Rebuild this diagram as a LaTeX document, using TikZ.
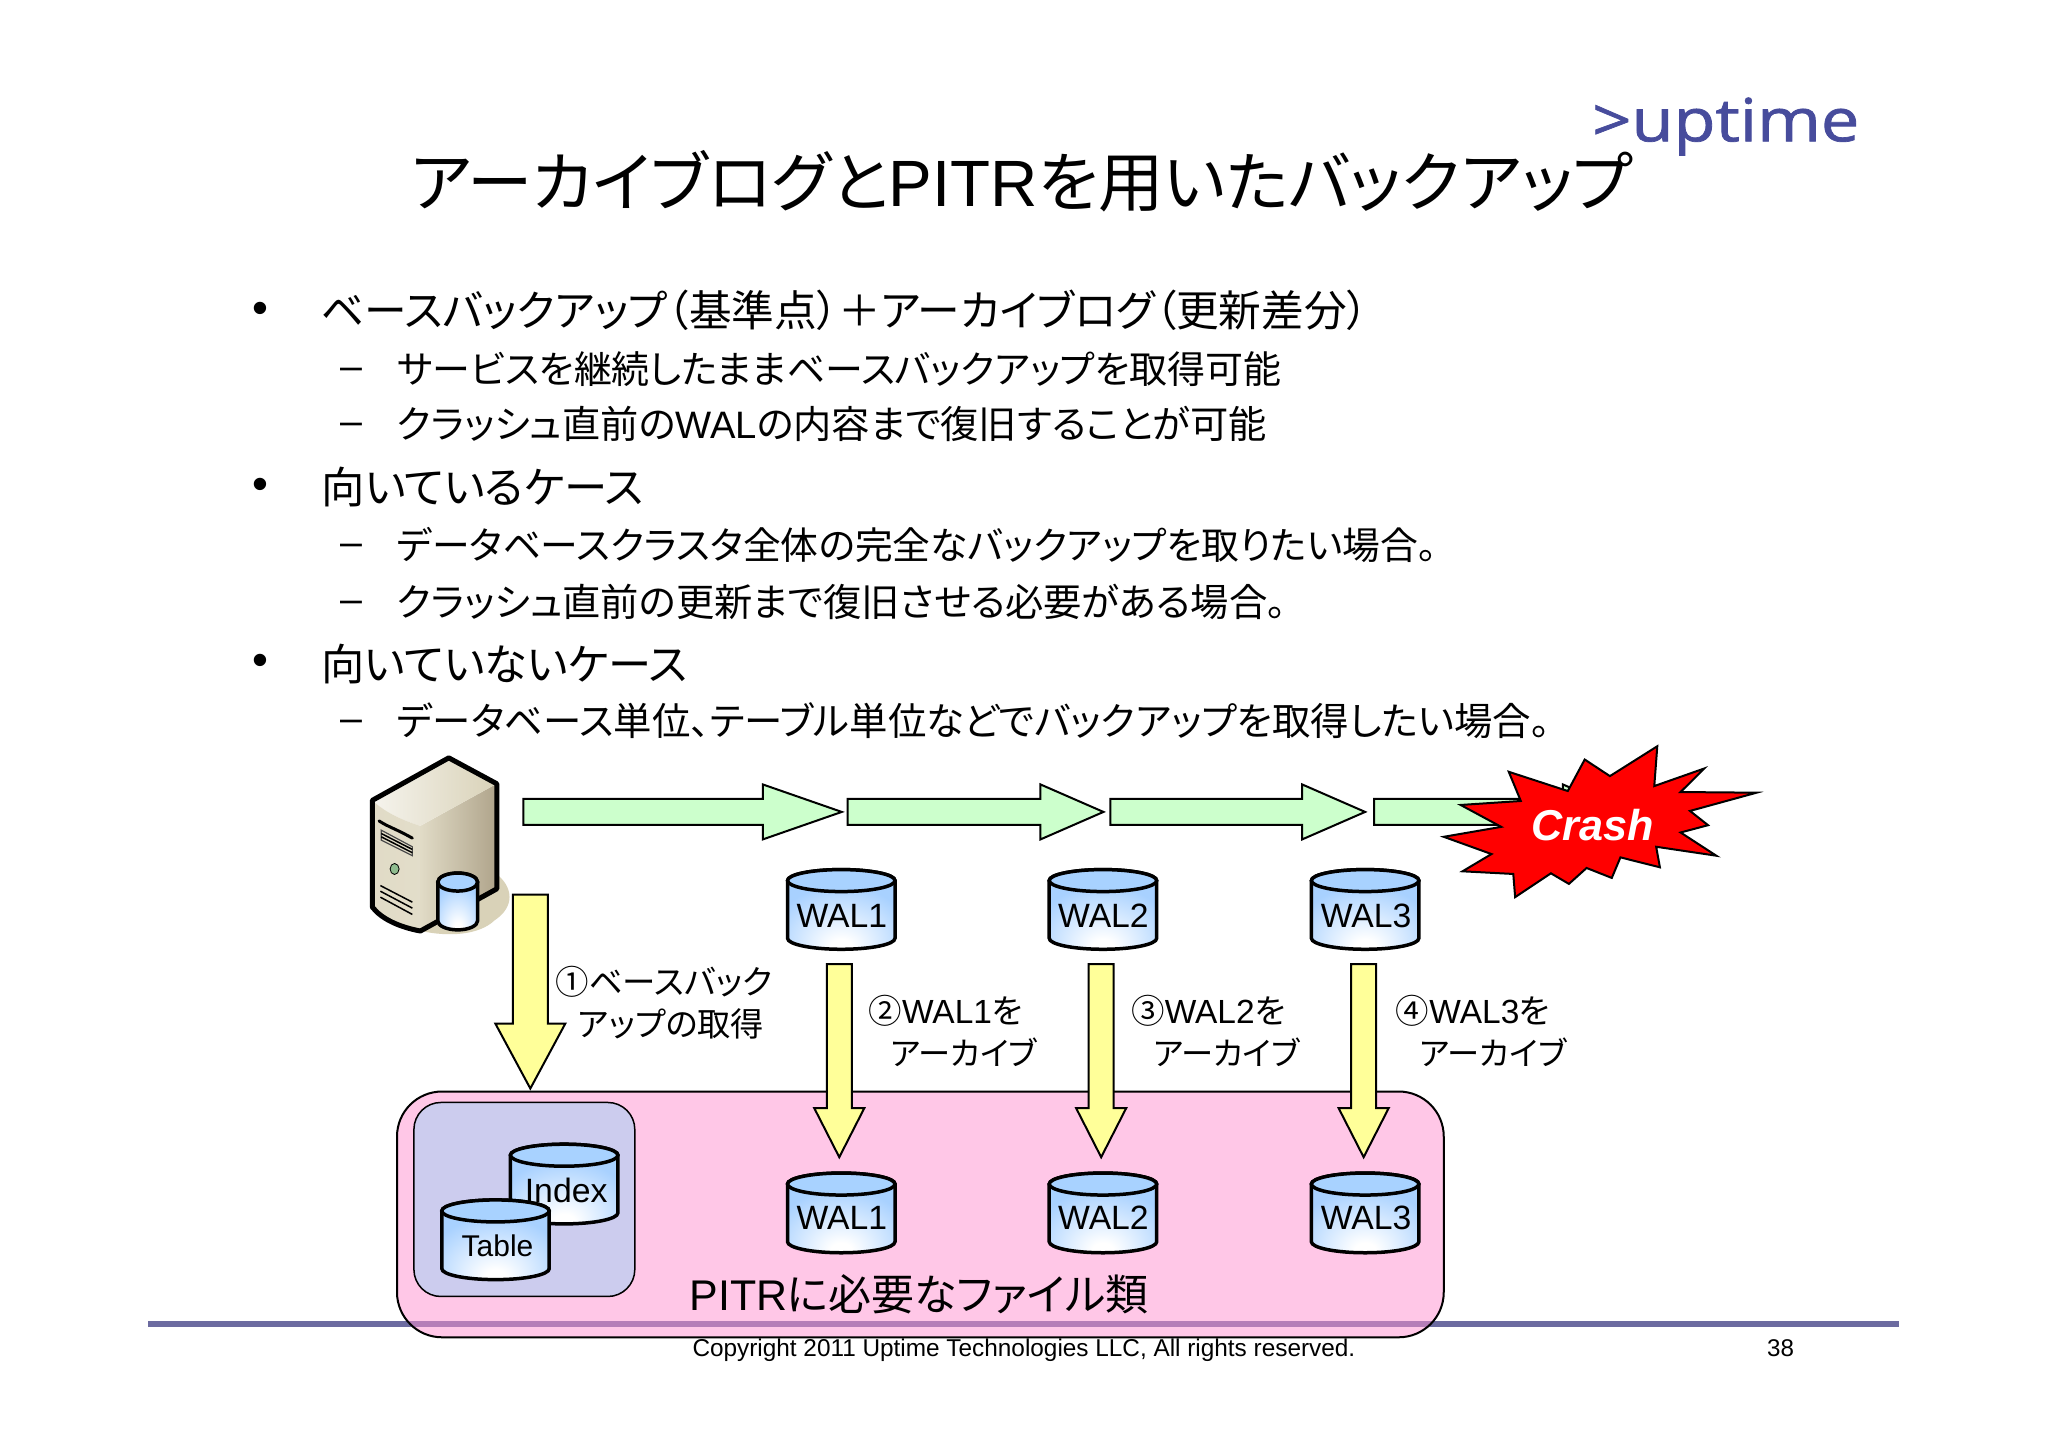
\documentclass[tikz,border=0pt]{standalone}
\usepackage{fontspec}
\usepackage{graphicx}
\setmainfont{Noto Sans CJK JP}[RawFeature={+palt}]
\newfontfamily\lat{Liberation Sans}
\newfontfamily\logo{Open Sans}[FakeBold=1.2]
\usetikzlibrary{calc}
\definecolor{cblue}{HTML}{A8D2FF}
\definecolor{gfill}{HTML}{CCFFCC}
\definecolor{yfill}{HTML}{FFFF99}
\definecolor{footline}{HTML}{6C6BA0}
\definecolor{pinkf}{HTML}{FF91D1}
\definecolor{lav}{HTML}{CCCCEE}
\definecolor{logoc}{HTML}{474C9C}
\definecolor{shad}{HTML}{D9D2B8}
\pgfdeclareradialshading{cylbody}{\pgfpoint{0bp}{-25bp}}{rgb(0bp)=(1,1,1);rgb(5bp)=(1,1,1);rgb(32bp)=(.66,.82,1);rgb(100bp)=(.66,.82,1)}
\tikzset{
  tx/.style={inner sep=0pt,outer sep=0pt,anchor=west,text=black,yshift=-1pt},
  hblock/.style n args={3}{draw=black,line width=2pt,line join=miter,fill=gfill,
    to path={let \p1=(\tikztostart),\p2=(\tikztotarget) in
      ({\x1},{\y1+#1pt}) -- ({\x2-#3pt},{\y1+#1pt}) -- ({\x2-#3pt},{\y1+#2pt}) -- (\x2,\y1)
      -- ({\x2-#3pt},{\y1-#2pt}) -- ({\x2-#3pt},{\y1-#1pt}) -- ({\x1},{\y1-#1pt}) -- cycle}},
  vblock/.style n args={3}{draw=black,line width=2pt,line join=miter,fill=yfill,
    to path={let \p1=(\tikztostart),\p2=(\tikztotarget) in
      ({\x1-#1pt},{\y1}) -- ({\x1+#1pt},{\y1}) -- ({\x1+#1pt},{\y2+#3pt}) -- ({\x1+#2pt},{\y2+#3pt}) -- (\x2,\y2)
      -- ({\x1-#2pt},{\y2+#3pt}) -- ({\x1-#1pt},{\y2+#3pt}) -- cycle}},
  cylb/.style={draw=black,line width=3.5pt,shading=cylbody},
  cyle/.style={draw=black,line width=3.5pt,fill=cblue},
}
\newcommand{\fitw}[2]{\resizebox{\dimexpr #1pt*995/1000\relax}{!}{#2}}
\newcommand{\jline}[5]{\node[tx] (#1) at (#2,#3) {\fitw{#4}{#5}};}
\newcommand{\ctext}[5]{\node[tx,anchor=center] (#1) at (#2,#3) {\fitw{#4}{#5}};}
% name, cx, cy, W, H, ry
\newcommand{\cylshape}[6]{
  \path[cylb] ({#2-#4/2},{#3-#5/2+#6}) -- ({#2-#4/2},{#3+#5/2-#6})
     arc[start angle=180,end angle=360,x radius={#4/2*.995pt},y radius={#6*1pt}]
     -- ({#2+#4/2},{#3-#5/2+#6}) arc[start angle=0,end angle=180,x radius={#4/2*.995pt},y radius={#6*1pt}] -- cycle;
  \path[cyle] (#2,{#3-#5/2+#6}) ellipse[x radius={#4/2*.995pt},y radius={#6*1pt}];
  \node[inner sep=0pt,minimum width=#4pt,minimum height=#5pt] (#1) at (#2,#3) {};
}
\begin{document}
\begin{tikzpicture}[x=.995pt,y=-.995pt]
\useasboundingbox (0pt,0pt) rectangle (2048pt,-1448pt);
\fill[white] (0pt,0pt) rectangle (2048pt,-1448pt);

% logo and title
\node[inner sep=0pt,anchor=base west,text=logoc] (logo) at (1600,142) {\resizebox*{267pt}{58pt}{\logo >uptime}};
\jline{title}{413}{181}{1228}{アーカイブログと{\lat PITR}を用いたバックアップ}

% bullets
\node[tx] (b1) at (254,313) {\fitw{16}{\lat •}};
\node[tx] (b2) at (254,490) {\fitw{16}{\lat •}};
\node[tx] (b3) at (254,667) {\fitw{16}{\lat •}};
\node[tx] (d1) at (342,375) {\fitw{22}{\lat –}};
\node[tx] (d2) at (342,430) {\fitw{22}{\lat –}};
\node[tx] (d3) at (342,552) {\fitw{22}{\lat –}};
\node[tx] (d4) at (342,609) {\fitw{22}{\lat –}};
\node[tx] (d5) at (342,728) {\fitw{22}{\lat –}};

\jline{l1}{323}{311}{1052}{ベースバックアップ（基準点）＋アーカイブログ（更新差分）}
\jline{l2}{399}{370}{889}{サービスを継続したままベースバックアップを取得可能}
\jline{l3}{399}{425}{874}{クラッシュ直前の{\lat WAL}の内容まで復旧することが可能}
\jline{l4}{323}{488}{324}{向いているケース}
\jline{l5}{399}{547}{1045}{データベースクラスタ全体の完全なバックアップを取りたい場合。}
\jline{l6}{399}{604}{894}{クラッシュ直前の更新まで復旧させる必要がある場合。}
\jline{l7}{323}{666}{368}{向いていないケース}
\jline{l8}{399}{723}{1159}{データベース単位、テーブル単位などでバックアップを取得したい場合。}

% footer rule and page text
\draw[footline,line width=6pt] (149,1330.5) -- (1909,1330.5);
\jline{copy}{696}{1356}{666}{\lat Copyright 2011 Uptime Technologies LLC, All rights reserved.}
\jline{page}{1776}{1354}{27}{\lat 38}

% large pink box (semi-transparent, the rule shows through)
\path[draw=black,line width=2pt,fill=pinkf,fill opacity=.5,rounded corners=45pt] (399,1097) rectangle (1451,1344);
\path[draw=black,line width=1.5pt,fill=lav,rounded corners=27pt] (416,1108) rectangle (638,1303);

% server
\begin{scope}[shift={(343,745)},x=.4442pt,y=-.3317pt]
  \fill[shad] (345,395) .. controls (390,440) and (390,500) .. (345,540) .. controls (310,585) and (240,590) .. (180,572) -- cycle;
  \path[left color=shad!80!white,right color=shad!80!black!90!brown] (178,255) -- (350,128) -- (350,445) -- (178,572) -- cycle;
  \path[left color=white!75!shad,right color=shad] (242,50) -- (350,128) -- (178,255) .. controls (130,235) and (95,210) .. (70,178) -- cycle;
  \path[left color=shad!80!white,right color=shad!75!white] (70,178) .. controls (95,210) and (130,235) .. (178,255) -- (178,572) .. controls (130,560) and (90,535) .. (70,500) -- cycle;
  \draw[black,line width=5pt,line join=round] (242,50) -- (350,128) -- (350,445) -- (178,572) .. controls (130,560) and (90,535) .. (70,500) -- (70,178) -- cycle;
  \draw[black,line width=3pt,line cap=round] (85,240) .. controls (105,258) and (120,262) .. (160,292);
  \draw[black!70,line width=1.2pt] (90,268) -- (160,318) -- (160,345) -- (90,298) -- cycle;
  \draw[black,line width=1.5pt] (90,278) -- (160,326);
  \draw[black,line width=1.5pt] (90,288) -- (160,336);
  \path[draw=black,line width=.8pt,fill=green!25!gray!70!white] (120,385) circle[x radius=4.5pt,y radius=5.5pt];
  \draw[black,line width=1.5pt] (88,435) -- (160,485);
  \draw[black,line width=1.5pt] (88,452) -- (160,503);
  \draw[black,line width=1.5pt] (88,470) -- (160,522);
\end{scope}
\cylshape{srvdb}{460}{906}{40}{57}{9}

% green arrows
\coordinate (g1s) at (526,816); \coordinate (g1e) at (846,816);
\coordinate (g2s) at (852,816); \coordinate (g2e) at (1109,816);
\coordinate (g3s) at (1116,816); \coordinate (g3e) at (1372,816);
\coordinate (g4s) at (1381,816); \coordinate (g4e) at (1634,816);
\draw[hblock={13}{27.5}{79}] (g1s) to (g1e);
\draw[hblock={13}{27.5}{63}] (g2s) to (g2e);
\draw[hblock={13}{27.5}{63}] (g3s) to (g3e);
\draw[hblock={13}{27.5}{63}] (g4s) to (g4e);

% crash star
\begin{scope}[shift={(1211,735)},x=.376pt,y=-.3317pt]
  \fill[red,draw=black,line width=2pt,line join=miter]
   (635,318)--(788,288)--(680,222)--(840,210)--(808,122)--(965,180)--(1010,85)--(1077,135)--(1203,45)--(1195,165)--(1328,112)--(1265,183)--(1467,185)--(1290,240)--(1338,283)--(1265,305)--(1360,375)--(1200,348)--(1210,410)--(1105,380)--(1082,442)--(1015,412)--(968,460)--(920,428)--(825,500)--(820,430)--(685,422)--(762,370)--cycle;
\end{scope}
\node[inner sep=0pt,text=white] (crash) at (1601,829) {\fitw{123}{\lat\bfseries\itshape Crash}};

% WAL cylinders upper
\cylshape{wa}{845.5}{914}{108}{80}{11}
\cylshape{wb}{1108.5}{914}{108}{80}{11}
\cylshape{wc}{1372}{914}{108}{80}{11}
\ctext{wat}{846}{919}{91}{\lat WAL1}
\ctext{wbt}{1109}{919}{91}{\lat WAL2}
\ctext{wct}{1373}{919}{91}{\lat WAL3}

% yellow arrows
\coordinate (y1s) at (533,899); \coordinate (y1e) at (533,1094);
\coordinate (y2s) at (843.5,969); \coordinate (y2e) at (843.5,1163);
\coordinate (y3s) at (1106.7,969); \coordinate (y3e) at (1106.7,1163);
\coordinate (y4s) at (1370.5,969); \coordinate (y4e) at (1370.5,1163);
\draw[vblock={17.5}{35}{65}] (y1s) to (y1e);
\draw[vblock={12.5}{25}{49}] (y2s) to (y2e);
\draw[vblock={12.5}{25}{49}] (y3s) to (y3e);
\draw[vblock={12.5}{25}{49}] (y4s) to (y4e);

% WAL cylinders lower
\cylshape{wd}{845.5}{1219}{108}{80}{11}
\cylshape{we}{1108.5}{1219}{108}{80}{11}
\cylshape{wf}{1372}{1219}{108}{80}{11}
\ctext{wdt}{846}{1223}{91}{\lat WAL1}
\ctext{wet}{1109}{1223}{91}{\lat WAL2}
\ctext{wft}{1373}{1223}{91}{\lat WAL3}

% Index / Table
\cylshape{idx}{567}{1190}{108}{80}{11}
\ctext{idxt}{569}{1195}{83}{\lat Index}
\cylshape{tbl}{498}{1246}{108}{80}{11}
\ctext{tblt}{500}{1251}{72}{\lat Table}

% labels
\jline{la1}{558}{986}{218}{①ベースバック}
\jline{la2}{581}{1028}{187}{アップの取得}
\jline{lb1}{873}{1015}{155}{②{\lat WAL1}を}
\jline{lb2}{895}{1057}{147}{アーカイブ}
\jline{lc1}{1137}{1015}{155}{③{\lat WAL2}を}
\jline{lc2}{1159}{1057}{147}{アーカイブ}
\jline{ld1}{1403}{1015}{155}{④{\lat WAL3}を}
\jline{ld2}{1427}{1057}{147}{アーカイブ}
\jline{files}{693}{1300}{461}{{\lat PITR}に必要なファイル類}
\end{tikzpicture}
\end{document}
